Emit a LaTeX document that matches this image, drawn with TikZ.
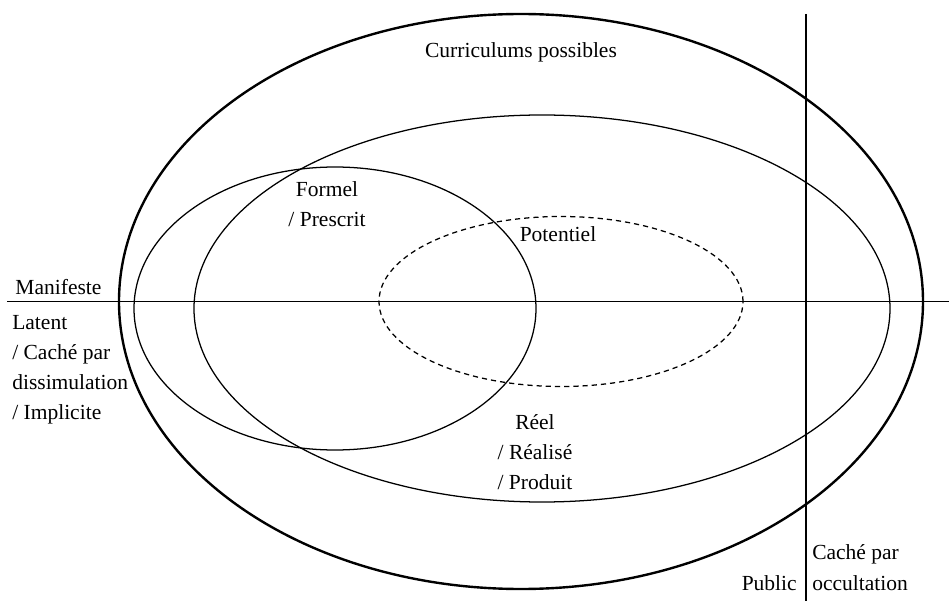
\documentclass[tikz,border=0pt]{standalone}
\usepackage{fontspec}
\setmainfont{Liberation Serif}
\tikzset{
	label text/.style = {font = \fontsize{15.3}{21.5}\selectfont, inner sep = 0pt},
	curriculum/.style = {line width = 0.9pt},
}
\begin{document}
\begin{tikzpicture}[x = 0.25mm, y = 0.25mm]
	%	frame
	\useasboundingbox (0, 0) rectangle (949, 601);
	
	%	axes
	\coordinate (manifesteW) at (7, 299.5);
	\coordinate (manifesteE) at (949, 299.5);
	\coordinate (occultN) at (806, 587);
	\coordinate (occultS) at (806, 0);
	\draw[line width = 0.8pt] (manifesteW) -- (manifesteE);
	\draw[line width = 0.8pt] (occultN) -- (occultS);
	
	%	ellipses
	\draw[line width = 1.7pt] (521, 299.5) ellipse (402 and 287.5);
	\draw[curriculum] (335, 292.5) ellipse (201 and 141.5);
	\draw[curriculum] (542, 292.5) ellipse (348 and 193.5);
	\draw[curriculum, dash pattern = on 1.3mm off 1mm] (561, 299.5) ellipse (182 and 85);
	
	%	labels (base = last line)
	\node[label text, anchor = base] (possibles) at (521, 543) {Curriculums possibles};
	\node[label text, anchor = base] (manifeste) at (58.5, 306) {Manifeste};
	\node[label text, anchor = base west, align = left] (latent) at (12, 181) {Latent\\/ Caché par\\dissimulation\\/ Implicite};
	\node[label text, anchor = base, align = center] (formel) at (327, 374) {Formel\\/ Prescrit};
	\node[label text, anchor = base] (potentiel) at (558, 359) {Potentiel};
	\node[label text, anchor = base, align = center] (reel) at (535, 111) {R\'eel\\/ R\'ealis\'e\\/ Produit};
	\node[label text, anchor = base east] (public) at (797, 11) {Public};
	\node[label text, anchor = base west, align = left] (occultation) at (812, 11) {Cach\'e par\\occultation};
\end{tikzpicture}
\end{document}
